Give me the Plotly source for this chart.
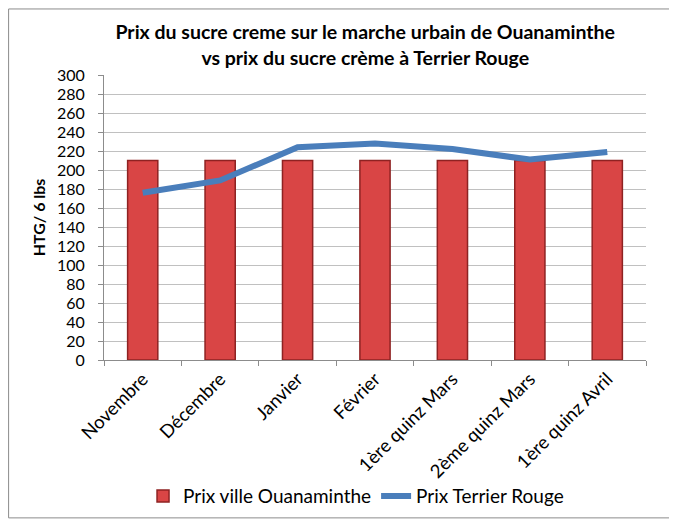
import plotly.graph_objects as go

categories = ["Novembre", "Décembre", "Janvier", "Février", "1ère quinz Mars", "2ème quinz Mars", "1ère quinz Avril"]
prix_ouanaminthe = [210, 210, 210, 210, 210, 210, 210]
prix_terrier_rouge = [176, 189, 224, 228, 222, 211, 219]
y_ticks = list(range(0, 301, 20))

FONT = "Lato, Open Sans, sans-serif"

fig = go.Figure()
fig.add_trace(go.Bar(
    x=categories, y=prix_ouanaminthe, name="Prix ville Ouanaminthe",
    marker=dict(color="#D94545", line=dict(color="#8E2222", width=1.5)),
    width=0.39,
))
fig.add_trace(go.Scatter(
    x=categories, y=prix_terrier_rouge, name="Prix Terrier Rouge",
    mode="lines", line=dict(color="#4A7EBB", width=6),
))

fig.update_layout(
    width=669, height=519,
    margin=dict(l=96, r=31, t=67, b=165),
    paper_bgcolor="white", plot_bgcolor="white",
    font=dict(family=FONT, size=15, color="black"),
    title=dict(
        text="<b>Prix du sucre creme sur le marche urbain de Ouanaminthe<br>vs prix du sucre crème à Terrier Rouge</b>",
        x=0.534, xanchor="center", y=0.9395, yanchor="top",
        font=dict(family=FONT, size=19.5, color="black"),
    ),
    showlegend=True,
    legend=dict(orientation="h", x=0.465, xanchor="center", y=-0.411, yanchor="top",
                font=dict(size=19), traceorder="normal", bgcolor="rgba(0,0,0,0)"),
    bargap=0.6,
    shapes=[dict(type="rect", xref="paper", yref="paper",
                 x0=-0.176, x1=1.046, y0=-0.554, y1=1.2317,
                 line=dict(color="#8C8C8C", width=1))],
)
fig.update_yaxes(
    range=[0, 300], tickvals=y_ticks, showgrid=True, gridcolor="#C0C0C0", gridwidth=1,
    showline=True, linecolor="#8C8C8C", ticks="outside", ticklen=5, tickcolor="#8C8C8C",
    title=dict(text="<b>HTG/ 6 lbs</b>", font=dict(size=16), standoff=7),
    zeroline=False, automargin=False, tickfont=dict(size=16), ticklabelstandoff=10,
)
fig.update_xaxes(
    tickangle=-45, showline=True, linecolor="#8C8C8C", ticks="outside", ticklen=5,
    tickcolor="#8C8C8C", tickson="boundaries", showgrid=False, tickfont=dict(size=18.5),
    automargin=False,
)

fig.write_html("out.html")
